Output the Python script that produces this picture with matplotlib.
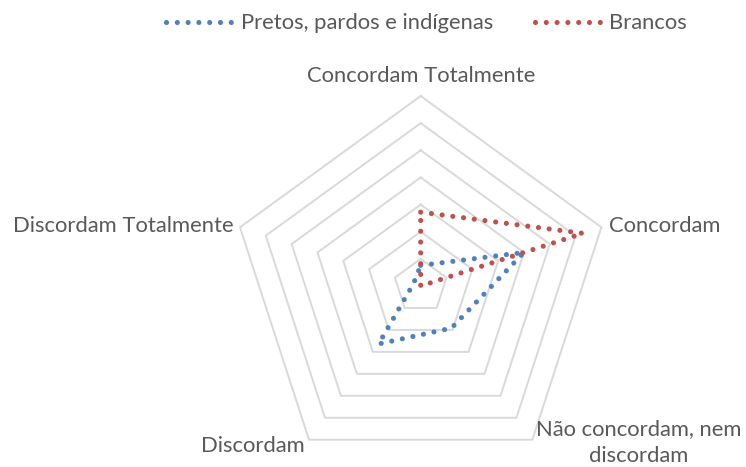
import numpy as np
import matplotlib
matplotlib.use('Agg')
import matplotlib.pyplot as plt

# dados (percentual de respostas)
categorias = ['Concordam Totalmente', 'Concordam', 'Não concordam, nem\ndiscordam',
              'Discordam', 'Discordam Totalmente']
pretos = [3.8, 20.0, 9.6, 13.2, 1.4]
brancos = [13.6, 31.4, 0.0, 0.0, 0.0]
niveis = [5, 10, 15, 20, 25, 30, 35]
series = ['Pretos, pardos e indígenas', 'Brancos']

cor_azul = '#4F81BD'
cor_verm = '#C0504D'
cor_texto = '#595959'
cor_grade = '#D9D9D9'

plt.rcParams['font.family'] = ['Lato', 'DejaVu Sans']
fs = 15.8

W, H = 746, 467
cx, cy, R = 420.7, 286.0, 190.0
s = R / niveis[-1]  # px por unidade

fig = plt.figure(figsize=(W / 100, H / 100), dpi=100)
ax = fig.add_axes([0, 0, 1, 1])
ax.set_xlim(-cx / s, (W - cx) / s)
ax.set_ylim(-(H - cy) / s, cy / s)
ax.set_aspect('equal')
ax.axis('off')

n = len(categorias)
ang = np.pi / 2 - 2 * np.pi * np.arange(n) / n


def xy(vals):
    v = np.append(vals, vals[0])
    a = np.append(ang, ang[0])
    return v * np.cos(a), v * np.sin(a)


# grade em pentágonos
for r in niveis:
    gx, gy = xy(np.full(n, r))
    ax.plot(gx, gy, color=cor_grade, lw=1.4, zorder=1)

# séries
dots = dict(lw=3.7, linestyle=(0, (0.001, 2.1)), dash_capstyle='round', zorder=3)
for vals, cor, nome in [(pretos, cor_azul, series[0]), (brancos, cor_verm, series[1])]:
    px, py = xy(vals)
    ax.plot(px, py, color=cor, label=nome, **dots)

# rótulos das categorias
vx, vy = xy(np.full(n, niveis[-1]))
pos = [((0, 10.3), 'center'), ((5.7, -3.2), 'left'), ((76.5, -16.2), 'center'),
       ((-2.9, -8.6), 'right'), ((-4.8, -3.2), 'right')]
for i, cat in enumerate(categorias):
    off, ha = pos[i]
    ax.annotate(cat, xy=(vx[i], vy[i]), xytext=off, textcoords='offset points',
                ha=ha, va='baseline', fontsize=fs, color=cor_texto,
                linespacing=1.45, multialignment='center')

ax.legend(loc='upper center', bbox_to_anchor=(426.5 / W, 0.995), ncol=2, frameon=False,
          fontsize=fs, handlelength=3.0, handletextpad=0.4, columnspacing=1.9,
          labelcolor=cor_texto, borderaxespad=0.1)

fig.savefig('out.png', dpi=100)
